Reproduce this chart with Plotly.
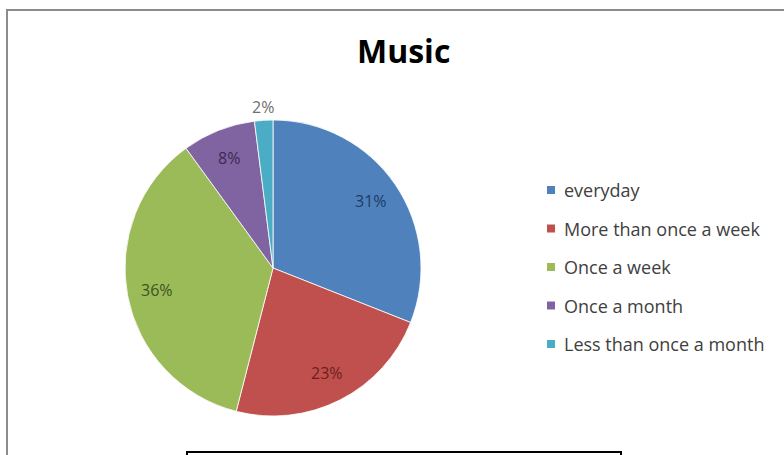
import math
import plotly.graph_objects as go

# Music listening frequency
categories = ["everyday", "More than once a week", "Once a week",
              "Once a month", "Less than once a month"]
shares = [31, 23, 36, 8, 2]
slice_colors = ["#4F81BD", "#C0504D", "#9BBB59", "#8064A2", "#4BACC6"]
label_colors = ["#1F3A66", "#6B1F1D", "#3E5220", "#3A2A52", "#6E6E6E"]
label_positions = ["inside", "inside", "inside", "inside", "outside"]

W, H = 784, 455
CX, CY, R = 273, 268, 148  # pie centre and radius in pixels


def px(x):
    return x / W


def py(y):
    return 1 - y / H


fig = go.Figure()
fig.add_trace(go.Pie(
    labels=categories,
    values=shares,
    sort=False,
    direction="clockwise",
    rotation=0,
    marker=dict(colors=slice_colors, line=dict(color="white", width=0.8)),
    textinfo="none",
    hoverinfo="label+percent",
    showlegend=False,
    domain=dict(x=[px(CX - R), px(CX + R)], y=[py(CY + R), py(CY - R)]),
))

# Percentage labels placed at each slice's mid angle
total = sum(shares)
cum = 0
annotations = []
for v, col, pos in zip(shares, label_colors, label_positions):
    mid = (cum + v / 2) / total * 2 * math.pi
    cum += v
    r = R * 0.80 if pos == "inside" else R + 13
    x = CX + r * math.sin(mid)
    y = CY - r * math.cos(mid)
    annotations.append(dict(
        x=px(x), y=py(y), xref="paper", yref="paper",
        text=f"{round(v / total * 100)}%", showarrow=False,
        font=dict(family="Open Sans", size=16, color=col),
        xanchor="center", yanchor="middle",
    ))

# Legend drawn as square swatches with text
shapes = []
leg_x, leg_y0, leg_dy = 551, 190, 38.5
for i, (name, col) in enumerate(zip(categories, slice_colors)):
    y = leg_y0 + i * leg_dy
    shapes.append(dict(type="rect", xref="paper", yref="paper",
                       x0=px(leg_x - 4), x1=px(leg_x + 4),
                       y0=py(y + 4), y1=py(y - 4),
                       fillcolor=col, line=dict(width=0)))
    annotations.append(dict(
        x=px(leg_x + 11), y=py(y), xref="paper", yref="paper",
        text=name, showarrow=False, xanchor="left", yanchor="middle",
        font=dict(family="Open Sans", size=18, color="#404040"),
    ))

# Title
annotations.append(dict(
    x=px(403), y=py(50), xref="paper", yref="paper",
    text="<b>Music</b>", showarrow=False, xanchor="center", yanchor="middle",
    font=dict(family="Open Sans", size=32, color="#000000"),
))

# Chart-area frame and the box beneath it
shapes.append(dict(type="rect", xref="paper", yref="paper",
                   x0=px(7), x1=px(800), y0=py(480), y1=py(10),
                   line=dict(color="#8C8C8C", width=2), fillcolor="rgba(0,0,0,0)"))
shapes.append(dict(type="rect", xref="paper", yref="paper",
                   x0=px(187), x1=px(621), y0=py(480), y1=py(452),
                   line=dict(color="#000000", width=2), fillcolor="rgba(0,0,0,0)"))

fig.update_layout(
    width=W, height=H,
    margin=dict(l=0, r=0, t=0, b=0),
    paper_bgcolor="white",
    plot_bgcolor="white",
    annotations=annotations,
    shapes=shapes,
)

fig.write_html("out.html")
